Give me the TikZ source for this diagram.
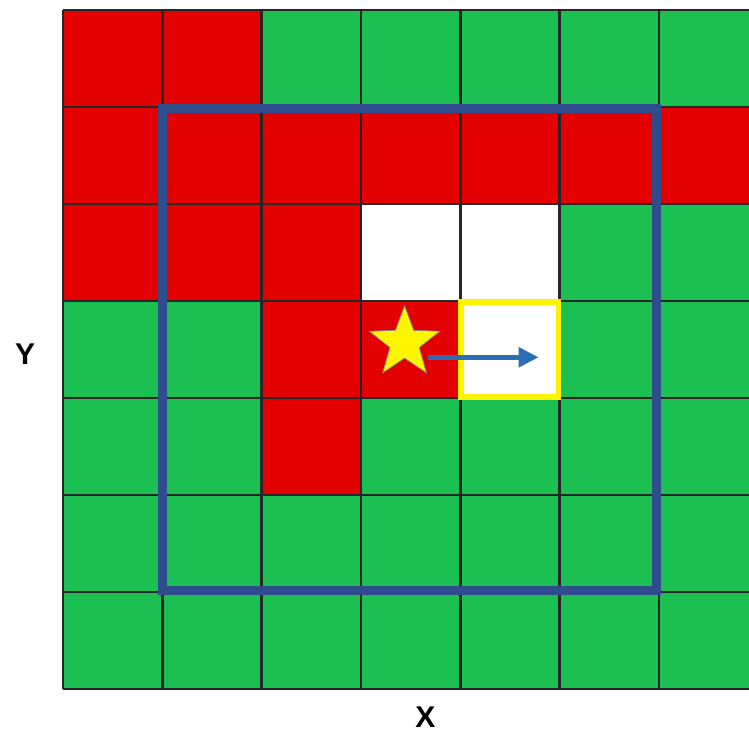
\documentclass[tikz,border=0pt]{standalone}
\usepackage{fontspec}
\setsansfont{Liberation Sans}
\usetikzlibrary{shapes.geometric,arrows.meta}
\definecolor{cellred}{HTML}{E30000}
\definecolor{cellgreen}{HTML}{1CBF52}
\definecolor{framblue}{HTML}{2F4D8C}
\definecolor{stepblue}{HTML}{2E6DB4}
\definecolor{staryel}{HTML}{FFF500}

\begin{document}
\begin{tikzpicture}[x=99.3pt,y=-97pt,font=\sffamily\bfseries\fontsize{30}{30}\selectfont,
    gridline/.style={black!85,line width=2.6pt},
    window/.style={framblue,line width=9pt},
    target/.style={yellow,line width=5.5pt},
    agent/.style={star,star points=5,star point ratio=2.4,minimum size=74pt,
                  inner sep=0pt,fill=staryel,draw=black!45,line width=0.8pt},
    movearrow/.style={stepblue,line width=5pt,-{Triangle[length=20pt,width=19pt]}}]
  \useasboundingbox (-0.634,-0.103) rectangle (6.908,7.495);
  \clip (-0.634,-0.103) rectangle (6.908,7.495);
  % cells: green everywhere, then red and white ones
  \fill[cellgreen] (0,0) rectangle (7,7);
  \foreach \c/\r in {0/0,1/0,0/1,1/1,2/1,3/1,4/1,5/1,6/1,0/2,1/2,2/2,2/3,3/3,2/4}
    \fill[cellred] (\c,\r) rectangle ++(1,1);
  \foreach \c/\r in {3/2,4/2,4/3}
    \fill[white] (\c,\r) rectangle ++(1,1);
  % grid lines
  \foreach \i in {0,...,7}{
    \draw[gridline] (\i,0) -- (\i,7);
    \draw[gridline] (0,\i) -- (7,\i);}
  % window and target cell
  \draw[window] (1,1.02) rectangle (5.98,5.98);
  \draw[target] (4.01,3.01) rectangle (4.99,3.99);
  % agent and its move
  \node[agent] (robot) at (3.44,3.43) {};
  \coordinate (from) at (3.68,3.58);
  \coordinate (goal) at (4.79,3.58);
  \draw[movearrow] (from) -- (goal);
  % axis labels
  \node (ylab) at (-0.38,3.55) {Y};
  \node (xlab) at (3.65,7.29) {X};
\end{tikzpicture}
\end{document}
